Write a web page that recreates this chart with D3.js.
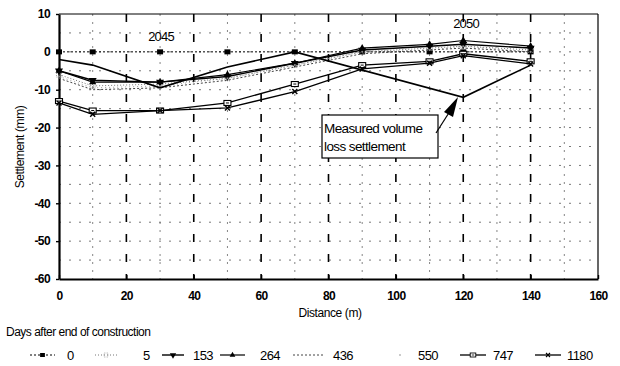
<!DOCTYPE html>
<html>
<head>
<meta charset="utf-8">
<script src="https://cdn.jsdelivr.net/npm/d3@7"></script>
<style>
  body { margin: 0; background: #fff; }
  text { font-family: "Liberation Sans", Arial, sans-serif; }
</style>
</head>
<body>
<script>
// distances along the section (m)
var distance = [0, 10, 30, 50, 70, 90, 110, 120, 140];

// settlement (mm) per days after end of construction
var days0    = [0, 0, 0, 0, 0, 0, 0, 0, 0];
var days5    = [-6, -9, -8.5, -7, -3.5, 0, 1, 1.5, 0.5];
var days153  = [-5, -7.5, -8, -6.5, -3, 0.5, 1.5, 2, 1];
var days264  = [-5, -8, -8, -6, -3, 1, 2, 3, 1.5];
var days436  = [-7, -10, -9.5, -7.5, -4, -0.5, 0.5, 1, 0];
var days550  = [-6.5, -9.5, -9, -7, -3.5, 0, 0.5, 1.5, 0];
var days747  = [-13, -15.5, -15.5, -13.5, -8.5, -3.5, -2.5, -0.5, -2.5];
var days1180 = [-13.5, -16.5, -15.5, -14.8, -10.5, -4.5, -3, -1, -3.2];

// measured volume loss settlement
var measuredX = [0, 10, 30, 50, 70, 120, 140];
var measuredY = [-2, -3.5, -9.5, -4, 0, -12, -3.5];

var legendLabels = ["0", "5", "153", "264", "436", "550", "747", "1180"];
var xTicks = [0, 20, 40, 60, 80, 100, 120, 140, 160];
var yTicks = [10, 0, -10, -20, -30, -40, -50, -60];

var w = 620, h = 366;
var svg = d3.select("body").append("svg").attr("width", w).attr("height", h);

var x = d3.scaleLinear().domain([0, 160]).range([59, 598]);
var y = d3.scaleLinear().domain([-60, 10]).range([279, 14]);

// grid - horizontal every 5 mm
var grid = svg.append("g");
d3.range(-55, 10, 5).forEach(function(v) {
  grid.append("line")
    .attr("x1", x(0)).attr("x2", x(160))
    .attr("y1", y(v)).attr("y2", y(v))
    .attr("stroke", "#555").attr("stroke-width", 0.8)
    .attr("stroke-dasharray", "2,8");
});
// vertical minor (10s) and major (20s)
d3.range(10, 160, 10).forEach(function(v) {
  var major = v % 20 == 0;
  grid.append("line")
    .attr("x1", x(v)).attr("x2", x(v))
    .attr("y1", y(10)).attr("y2", y(-60))
    .attr("stroke", major ? "#000" : "#666")
    .attr("stroke-width", major ? 1.6 : 0.8)
    .attr("stroke-dasharray", major ? "8,12" : "2,6");
});

// frame
svg.append("line").attr("x1", x(0)).attr("x2", x(160)).attr("y1", y(10)).attr("y2", y(10))
  .attr("stroke", "#000").attr("stroke-width", 1);
svg.append("line").attr("x1", x(160)).attr("x2", x(160)).attr("y1", y(10)).attr("y2", y(-60))
  .attr("stroke", "#000").attr("stroke-width", 1.2);

// axes
var yAxis = svg.append("g").attr("transform", "translate(" + x(0) + ",0)")
  .call(d3.axisLeft(y).tickValues(yTicks).tickSizeInner(3).tickSizeOuter(0)
    .tickFormat(function(d) { return String(d); }));
var xAxis = svg.append("g").attr("transform", "translate(0," + y(-60) + ")")
  .call(d3.axisBottom(x).tickValues(xTicks).tickSizeInner(-4).tickSizeOuter(0).tickPadding(12));
[yAxis, xAxis].forEach(function(a) {
  a.select(".domain").attr("stroke-width", 2.2);
  a.selectAll(".tick line").attr("stroke-width", 1.4);
  a.selectAll("text").attr("font-size", 12).attr("font-weight", "bold").attr("fill", "#000")
    .attr("letter-spacing", -0.6)
    .attr("font-family", "'Liberation Sans', Arial, sans-serif");
});
yAxis.selectAll("text").attr("x", -9);

// axis titles
svg.append("text").attr("transform", "translate(24,147) rotate(-90)")
  .attr("text-anchor", "middle").attr("font-size", 12).attr("letter-spacing", -0.4).text("Settlement (mm)");
svg.append("text").attr("x", 330).attr("y", 317).attr("text-anchor", "middle")
  .attr("font-size", 12).attr("letter-spacing", -0.4).text("Distance (m)");

// series definitions
var series = [
  { values: days0,    dash: "2,2", width: 1,   color: "#000", marker: "square" },
  { values: days5,    dash: "1,2", width: 1,   color: "#777", marker: "smallsquare" },
  { values: days153,  dash: null,  width: 1.4, color: "#000", marker: "tridown" },
  { values: days264,  dash: null,  width: 1.2, color: "#000", marker: "triup" },
  { values: days436,  dash: "2,2", width: 1,   color: "#444", marker: "none" },
  { values: days550,  dash: "1,3", width: 0.8, color: "#888", marker: "dot" },
  { values: days747,  dash: null,  width: 1.3, color: "#000", marker: "hollow" },
  { values: days1180, dash: null,  width: 1.3, color: "#000", marker: "cross" }
];

var line = d3.line().x(function(d) { return x(d[0]); }).y(function(d) { return y(d[1]); });

function drawMarker(g, type, cx, cy, k) {
  k = k || 1;
  var t = "translate(" + cx + "," + cy + ") scale(" + k + ")";
  var m = g.append("g").attr("transform", t);
  if (type == "square") {
    m.append("rect").attr("x", -3).attr("y", -2.5).attr("width", 6).attr("height", 5).attr("fill", "#000");
  } else if (type == "smallsquare") {
    m.append("rect").attr("x", -2.5).attr("y", -2.5).attr("width", 5).attr("height", 5)
      .attr("fill", "none").attr("stroke", "#888").attr("stroke-width", 0.8).attr("stroke-dasharray", "1,1");
  } else if (type == "tridown") {
    m.append("path").attr("d", d3.symbol(d3.symbolTriangle, 28)()).attr("transform", "rotate(180)").attr("fill", "#000");
  } else if (type == "triup") {
    m.append("path").attr("d", d3.symbol(d3.symbolTriangle, 22)()).attr("fill", "#000");
  } else if (type == "dot") {
    m.append("circle").attr("r", 1).attr("fill", "#888");
  } else if (type == "hollow") {
    m.append("rect").attr("x", -3.5).attr("y", -2.5).attr("width", 7).attr("height", 5)
      .attr("fill", "#fff").attr("stroke", "#000").attr("stroke-width", 1.1);
    m.append("line").attr("x1", -1.5).attr("x2", 1.5).attr("y1", 0).attr("y2", 0).attr("stroke", "#000");
  } else if (type == "cross") {
    m.append("path").attr("d", d3.symbol(d3.symbolX, 18)())
      .attr("stroke", "#000").attr("stroke-width", 1.4);
  }
}

var plot = svg.append("g");
series.forEach(function(s) {
  var pts = distance.map(function(d, i) { return [d, s.values[i]]; });
  plot.append("path").datum(pts).attr("d", line)
    .attr("fill", "none").attr("stroke", s.color).attr("stroke-width", s.width)
    .attr("stroke-dasharray", s.dash);
  pts.forEach(function(p) { drawMarker(plot, s.marker, x(p[0]), y(p[1])); });
});

// measured volume loss line
var measured = measuredX.map(function(d, i) { return [d, measuredY[i]]; });
plot.append("path").datum(measured).attr("d", line)
  .attr("fill", "none").attr("stroke", "#000").attr("stroke-width", 1.6);

// year labels
svg.append("text").attr("x", 161).attr("y", 41).attr("text-anchor", "middle")
  .attr("font-size", 13).attr("letter-spacing", -0.8).text("2045");
svg.append("text").attr("x", 466).attr("y", 28).attr("text-anchor", "middle")
  .attr("font-size", 13).attr("letter-spacing", -0.8).text("2050");

// annotation box + arrow
var ann = svg.append("g");
ann.append("rect").attr("x", 322).attr("y", 115).attr("width", 116).attr("height", 43)
  .attr("fill", "#fff").attr("stroke", "#000").attr("stroke-width", 1.2);
ann.append("text").attr("x", 324).attr("y", 133).attr("font-size", 13.5).attr("letter-spacing", -0.6).text("Measured volume");
ann.append("text").attr("x", 324).attr("y", 151).attr("font-size", 13.5).attr("letter-spacing", -0.6).text("loss settlement");
ann.append("line").attr("x1", 436).attr("y1", 133).attr("x2", 452).attr("y2", 108)
  .attr("stroke", "#000").attr("stroke-width", 1.2);
ann.append("path").attr("d", "M458,97 L444,112 L453,117 Z").attr("fill", "#000");

// legend
svg.append("text").attr("x", 6).attr("y", 336).attr("font-size", 12).attr("letter-spacing", -0.5)
  .text("Days after end of construction");
var legX = [[30, 55, 67], [95, 117, 143], [162, 184, 193], [220, 245, 260], [293, 325, 333], [398, 402, 418], [460, 486, 493], [535, 561, 567]];
var legY = 355;
var legend = svg.append("g");
series.forEach(function(s, i) {
  var p = legX[i];
  if (s.marker != "dot") {
    legend.append("line").attr("x1", p[0]).attr("x2", p[1]).attr("y1", legY).attr("y2", legY)
      .attr("stroke", s.color).attr("stroke-width", s.width).attr("stroke-dasharray", s.dash);
  }
  drawMarker(legend, s.marker, (p[0] + p[1]) / 2, legY, 0.8);
  legend.append("text").attr("x", p[2]).attr("y", legY + 4.5).attr("font-size", 13)
    .attr("letter-spacing", -0.6).text(legendLabels[i]);
});
</script>
</body>
</html>
